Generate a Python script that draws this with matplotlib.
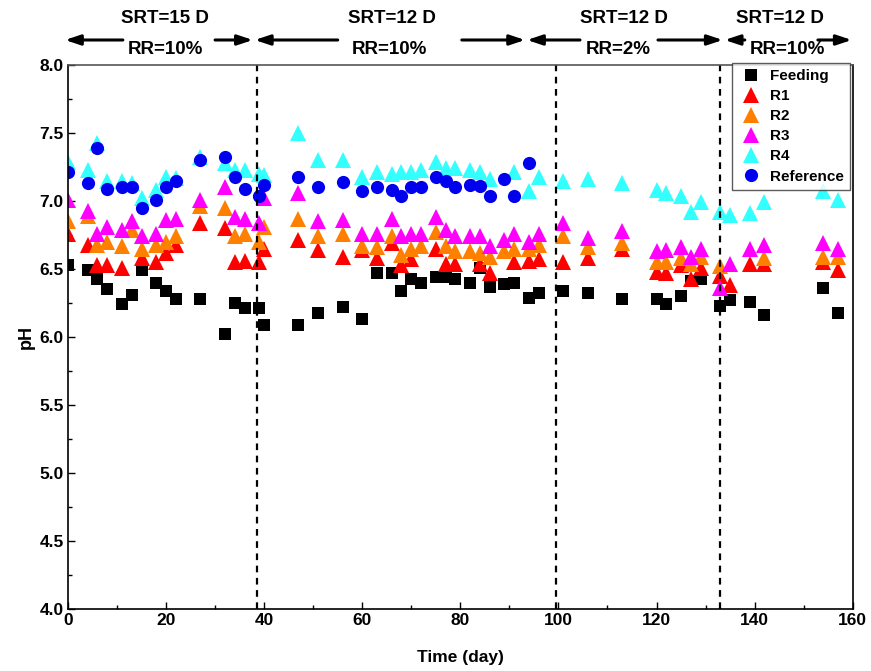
import numpy as np
import matplotlib
matplotlib.use("Agg")
import matplotlib.pyplot as plt
from matplotlib import font_manager

nan = np.nan

# sampling days (shared by all series)
days = [0, 4, 6, 8, 11, 13, 15, 18, 20, 22, 27, 32, 34, 36, 39, 40, 47, 51, 56, 60,
        63, 66, 68, 70, 72, 75, 77, 79, 82, 84, 86, 89, 91, 94, 96, 101, 106, 113,
        120, 122, 125, 127, 129, 133, 135, 139, 142, 154, 157]

feeding = [6.53, 6.49, 6.43, 6.35, 6.24, 6.31, 6.49, 6.40, 6.34, 6.28, 6.28, 6.02, 6.25, 6.21,
           6.21, 6.09, 6.09, 6.18, 6.22, 6.13, 6.47, 6.47, 6.34, 6.43, 6.40, 6.44, 6.44, 6.43,
           6.40, 6.51, 6.37, 6.39, 6.40, 6.29, 6.32, 6.34, 6.32, 6.28, 6.28, 6.24, 6.30, 6.41,
           6.43, 6.23, 6.27, 6.26, 6.16, 6.36, 6.18]
r1 = [6.76, 6.68, 6.53, 6.53, 6.51, nan, 6.58, 6.55, 6.62, 6.68, 6.84, 6.80, 6.55, 6.56,
      6.55, 6.65, 6.71, 6.64, 6.59, 6.64, 6.58, 6.69, 6.53, 6.57, nan, 6.65, 6.54, 6.54,
      nan, 6.54, 6.47, nan, 6.55, 6.56, 6.57, 6.55, 6.58, 6.65, 6.48, 6.47, 6.53, 6.43,
      6.51, 6.45, 6.38, 6.54, 6.54, 6.55, 6.49]
r2 = [6.85, 6.89, 6.68, 6.70, 6.67, 6.79, 6.65, 6.68, 6.70, 6.74, 6.96, 6.95, 6.74, 6.76,
      6.70, 6.81, 6.87, 6.74, 6.76, 6.67, 6.66, 6.74, 6.60, 6.65, 6.67, 6.77, 6.67, 6.63,
      6.63, 6.62, 6.59, 6.63, 6.65, 6.65, 6.68, 6.74, 6.66, 6.69, 6.55, 6.55, 6.58, 6.54,
      6.59, 6.52, nan, nan, 6.58, 6.59, 6.59]
r3 = [7.01, 6.93, 6.76, 6.81, 6.79, 6.85, 6.74, 6.76, 6.86, 6.87, 7.01, 7.10, 6.88, 6.87,
      6.84, 7.02, 7.06, 6.85, 6.86, 6.76, 6.76, 6.87, 6.74, 6.76, 6.76, 6.88, 6.79, 6.74,
      6.74, 6.74, 6.67, 6.71, 6.76, 6.70, 6.76, 6.84, 6.73, 6.78, 6.63, 6.64, 6.66, 6.59,
      6.65, 6.36, 6.54, 6.65, 6.68, 6.69, 6.65]
r4 = [7.29, 7.23, 7.43, 7.15, 7.15, 7.13, 7.02, 7.08, 7.18, 7.17, 7.32, 7.28, 7.23, 7.23,
      7.20, 7.19, 7.50, 7.30, 7.30, 7.18, 7.21, 7.20, 7.21, 7.21, 7.23, 7.29, 7.24, 7.24,
      7.23, 7.21, 7.16, nan, 7.21, 7.07, 7.18, 7.15, 7.16, 7.13, 7.08, 7.06, 7.04, 6.92,
      6.99, 6.92, 6.90, 6.91, 6.99, 7.07, 7.01]
reference = [7.21, 7.13, 7.39, 7.09, 7.10, 7.10, 6.95, 7.01, 7.10, 7.15, 7.30, 7.32, 7.18, 7.09,
             7.04, 7.12, 7.18, 7.10, 7.14, 7.07, 7.10, 7.08, 7.04, 7.10, 7.10, 7.18, 7.15, 7.10,
             7.12, 7.11, 7.04, 7.16, 7.04, 7.28, nan, nan, nan, nan, nan, nan, nan, nan,
             nan, nan, nan, nan, nan, nan, nan]

# operating phases
phase_bounds = [38.5, 99.5, 133]
srt_labels = ["SRT=15 D", "SRT=12 D", "SRT=12 D", "SRT=12 D"]
rr_labels = ["RR=10%", "RR=10%", "RR=2%", "RR=10%"]
srt_x = [19.8, 66, 113.3, 145.1]
rr_x = [19.8, 65.6, 112.1, 146.6]
# arrows: (tail, head) in days
arrows = [(11.2, -0.6), (30, 37.7), (55, 38.1), (80.3, 93.2),
          (104.4, 93.6), (120.3, 133.5), (138, 133.9), (152.9, 159.8)]

# narrow bold font for ticks if available, else plain bold sans a bit smaller
installed = {f.name for f in font_manager.fontManager.ttflist}
narrow = [f for f in ["Liberation Sans Narrow", "DejaVu Sans Condensed"] if f in installed]
tick_size = 14 if narrow else 12.5
narrow = narrow + ["Liberation Sans", "DejaVu Sans"]
bold_sans = ["Liberation Sans", "DejaVu Sans"]

fig = plt.figure(figsize=(8.71, 6.71), dpi=100)
ax = fig.add_axes([0.078, 0.0924, 0.901, 0.8107])

series = [("Feeding", feeding, "s", "black", 8.5),
          ("R1", r1, "^", "#ff0000", 11),
          ("R2", r2, "^", "#ff8000", 11),
          ("R3", r3, "^", "#ff00ff", 11),
          ("R4", r4, "^", "#33ffff", 11),
          ("Reference", reference, "o", "#0000ee", 9.5)]
for name, vals, m, c, ms in series:
    ax.plot(days, vals, ls="none", marker=m, color=c, ms=ms, mew=0, label=name)

for b in phase_bounds:
    ax.axvline(b, color="black", ls=(0, (3, 2.5)), lw=1.6)

ax.set_xlim(0, 160)
ax.set_ylim(4.0, 8.0)
ax.set_xticks(np.arange(0, 161, 20))
ax.set_xticks(np.arange(0, 161, 10), minor=True)
ax.set_yticks(np.arange(4.0, 8.01, 0.5))
ax.set_yticks(np.arange(4.0, 8.01, 0.25), minor=True)
ax.set_yticklabels([f"{v:.1f}" for v in np.arange(4.0, 8.01, 0.5)])
ax.tick_params(which="both", direction="in", top=False, right=False, width=1)
ax.tick_params(which="major", length=5, labelsize=tick_size, pad=3)
ax.tick_params(which="minor", length=3)
for lab in ax.get_xticklabels() + ax.get_yticklabels():
    lab.set_family(narrow)
    lab.set_fontweight("bold")
for s in ax.spines.values():
    s.set_linewidth(1.2)
ax.spines["top"].set_color("#555555")

ax.set_xlabel("Time (day)", family=narrow, fontweight="bold", fontsize=tick_size, labelpad=16)
ax.set_ylabel("pH", family=bold_sans, fontweight="bold", fontsize=13, labelpad=3)

leg = ax.legend(loc="upper right", bbox_to_anchor=(0.997, 1.004), fancybox=False,
                frameon=True, edgecolor="#333333", borderaxespad=0,
                prop={"family": bold_sans, "weight": "bold", "size": 11},
                labelspacing=0.4, handletextpad=0.5, handlelength=1.6,
                borderpad=0.4)
leg.get_frame().set_linewidth(1.0)

trans = ax.get_xaxis_transform()
for x, t in zip(srt_x, srt_labels):
    ax.text(x, 1.086, t, transform=trans, ha="center", va="center",
            family=bold_sans, fontweight="bold", fontsize=13.5, clip_on=False)
for x, t in zip(rr_x, rr_labels):
    ax.text(x, 1.028, t, transform=trans, ha="center", va="center",
            family=bold_sans, fontweight="bold", fontsize=13.5, clip_on=False)
for tail, head in arrows:
    ax.annotate("", xy=(head, 1.046), xytext=(tail, 1.046), xycoords=trans,
                textcoords=trans, annotation_clip=False,
                arrowprops=dict(arrowstyle="-|>,head_length=0.9,head_width=0.3",
                                color="black", lw=2.2, shrinkA=0, shrinkB=0))

fig.savefig("out.png", dpi=100)
